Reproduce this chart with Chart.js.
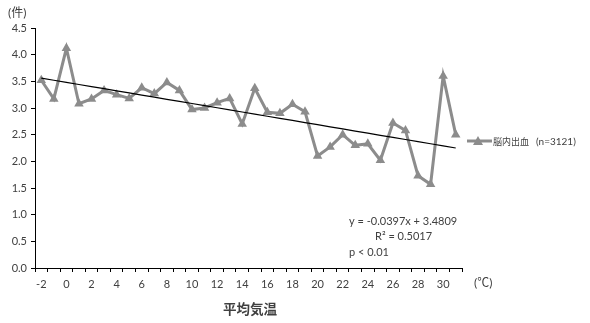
<!DOCTYPE html>
<html lang="ja">
<head>
<meta charset="utf-8">
<script src="https://cdn.jsdelivr.net/npm/chart.js@4"></script>
<style>
  html, body { margin: 0; padding: 0; background: #fff; }
  #wrap { width: 590px; height: 323px; position: relative; }
</style>
</head>
<body>
<div id="wrap"><canvas id="chart"></canvas></div>
<script>
// 平均気温ごとの1日あたり発生件数
const temps = [-2, -1, 0, 1, 2, 3, 4, 5, 6, 7, 8, 9, 10, 11, 12, 13, 14, 15,
               16, 17, 18, 19, 20, 21, 22, 23, 24, 25, 26, 27, 28, 29, 30, 31];
const counts = [3.52, 3.17, 4.12, 3.08, 3.17, 3.33, 3.25, 3.18, 3.38, 3.27,
                3.48, 3.33, 2.97, 3.00, 3.10, 3.18, 2.70, 3.37, 2.92, 2.90,
                3.07, 2.93, 2.10, 2.27, 2.50, 2.30, 2.33, 2.02, 2.72, 2.58,
                1.73, 1.57, 3.60, 2.50];
const yTicks = [0, 0.5, 1.0, 1.5, 2.0, 2.5, 3.0, 3.5, 4.0, 4.5];

// 近似直線の係数
const slope = -0.0397;
const intercept = 3.4809;
const trend = temps.map(t => slope * t + intercept);

const seriesName = '脳内出血';
const seriesNote = '(n=3121)';
const FONT = 'Lato, "Noto Sans CJK JP", sans-serif';
const GRAY = '#8c8c8c';
const TEXT = '#404040';

// 凡例・単位・回帰式などの注記
const annotations = {
    id: 'annotations',
    afterDraw(chart) {
        const ctx = chart.ctx;
        const area = chart.chartArea;
        ctx.save();
        ctx.fillStyle = TEXT;
        ctx.textBaseline = 'middle';

        ctx.font = '12px ' + FONT;
        ctx.textAlign = 'left';
        ctx.fillText('(件)', 8, 13);
        ctx.fillText('(℃)', 474, 283);

        ctx.font = 'bold 13.5px ' + FONT;
        ctx.textAlign = 'center';
        ctx.fillText('平均気温', 250, 310);

        ctx.font = '11px ' + FONT;
        ctx.textAlign = 'left';
        ctx.fillText('y = -0.0397x + 3.4809', 349, 221);
        ctx.fillText('R² = 0.5017', 375, 236);
        ctx.fillText('p < 0.01', 349, 252);

        // 凡例
        const ly = 141;
        ctx.strokeStyle = GRAY;
        ctx.lineWidth = 3;
        ctx.beginPath();
        ctx.moveTo(area.right + 5, ly);
        ctx.lineTo(area.right + 30, ly);
        ctx.stroke();
        ctx.fillStyle = GRAY;
        ctx.beginPath();
        ctx.moveTo(478, ly - 5);
        ctx.lineTo(483, ly + 4);
        ctx.lineTo(473, ly + 4);
        ctx.closePath();
        ctx.fill();

        ctx.fillStyle = TEXT;
        ctx.font = '9px ' + FONT;
        ctx.fillText(seriesName, 493, ly + 1);
        ctx.font = '10px ' + FONT;
        ctx.fillText(seriesNote, 536, ly + 1);
        ctx.restore();
    }
};

new Chart(document.getElementById('chart'), {
    type: 'line',
    data: {
        labels: temps,
        datasets: [
            {
                label: seriesName,
                data: counts,
                borderColor: GRAY,
                backgroundColor: GRAY,
                borderWidth: 3,
                pointStyle: 'triangle',
                pointRadius: 5.5,
                pointBorderWidth: 0,
                tension: 0,
                order: 1
            },
            {
                label: 'trend',
                data: trend,
                borderColor: '#000',
                borderWidth: 1.2,
                pointRadius: 0,
                order: 0
            }
        ]
    },
    options: {
        responsive: true,
        maintainAspectRatio: false,
        animation: false,
        layout: { padding: { top: 28, right: 128, left: 0, bottom: 0 } },
        plugins: {
            legend: { display: false },
            tooltip: { enabled: false }
        },
        scales: {
            x: {
                type: 'category',
                offset: true,
                afterFit: s => { s.height = 55; },
                grid: {
                    offset: true,
                    drawOnChartArea: false,
                    drawTicks: true,
                    tickLength: 4,
                    color: '#000'
                },
                border: { color: '#000', width: 1 },
                ticks: {
                    autoSkip: false,
                    maxRotation: 0,
                    padding: 6,
                    color: TEXT,
                    font: { family: FONT, size: 11 },
                    callback: (v, i) => (i % 2 === 0 ? String(temps[i]) : '')
                }
            },
            y: {
                min: 0,
                max: 4.5,
                afterFit: s => { s.width = 35; },
                afterBuildTicks: s => { s.ticks = yTicks.map(v => ({ value: v })); },
                grid: {
                    drawOnChartArea: false,
                    drawTicks: true,
                    tickLength: 4,
                    color: '#000'
                },
                border: { color: '#000', width: 1 },
                ticks: {
                    padding: 4,
                    color: TEXT,
                    font: { family: FONT, size: 11 },
                    callback: v => v.toFixed(1)
                }
            }
        }
    },
    plugins: [annotations]
});
</script>
</body>
</html>
